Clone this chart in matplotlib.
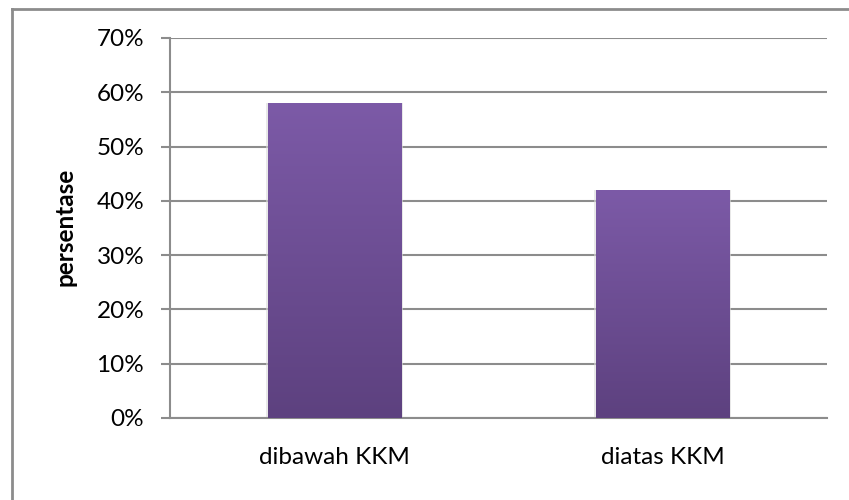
import numpy as np
import matplotlib
matplotlib.use('Agg')
import matplotlib.pyplot as plt
from matplotlib.lines import Line2D
from matplotlib.colors import LinearSegmentedColormap
from matplotlib.ticker import PercentFormatter

# Data
categories = ['dibawah KKM', 'diatas KKM']
values = [0.58, 0.42]
y_ticks = [0, 0.1, 0.2, 0.3, 0.4, 0.5, 0.6, 0.7]

plt.rcParams['font.family'] = ['Lato', 'DejaVu Sans']
FS = 17.5

fig = plt.figure(figsize=(8.49, 5.0), dpi=100)
ax = fig.add_axes([0.2002, 0.164, 0.7738, 0.760])

grid_col = '#8c8c8c'
x = np.arange(len(categories))
bars = ax.bar(x, values, width=0.405, color='none', zorder=3)

# vertical purple gradient, lighter at the top
cmap = LinearSegmentedColormap.from_list('purp', ['#5d417f', '#7c5aa7'])
grad = np.linspace(0, 1, 256).reshape(-1, 1)
for b in bars:
    x0, w, h = b.get_x(), b.get_width(), b.get_height()
    # soft shadow on the sides
    ax.bar(x0 + w / 2, h, width=w * 1.03, color='#d9d9d9', alpha=0.6, zorder=2)
    im = ax.imshow(grad, cmap=cmap, origin='lower', aspect='auto',
                   extent=[x0, x0 + w, 0, h], zorder=3)
    im.set_clip_path(b)

ax.set_xlim(-0.5, len(categories) - 0.5)
ax.set_ylim(0, 0.7)
ax.set_yticks(y_ticks)
ax.yaxis.set_major_formatter(PercentFormatter(1.0, decimals=0))
ax.set_xticks(x)
ax.set_xticklabels(categories)

ax.grid(axis='y', color=grid_col, linewidth=1.5, zorder=1)
ax.set_axisbelow(True)
for side in ['top', 'right']:
    ax.spines[side].set_visible(False)
for side in ['left', 'bottom']:
    ax.spines[side].set_color(grid_col)
    ax.spines[side].set_linewidth(1.5)

ax.tick_params(axis='y', length=6.5, width=1.5, color=grid_col, pad=12,
               labelsize=FS, labelcolor='black')
ax.tick_params(axis='x', length=0, pad=21, labelsize=FS, labelcolor='black')

fig.text(65 / 849, 1 - 227 / 500, 'persentase', rotation=90, fontsize=FS,
         fontweight='bold', ha='center', va='center')

# chart frame
fig.add_artist(Line2D([12 / 849, 1], [1 - 9 / 500, 1 - 9 / 500],
                      transform=fig.transFigure, color=grid_col, linewidth=2))
fig.add_artist(Line2D([12 / 849, 12 / 849], [0, 1 - 9 / 500],
                      transform=fig.transFigure, color=grid_col, linewidth=2))

fig.savefig('out.png', dpi=100)
